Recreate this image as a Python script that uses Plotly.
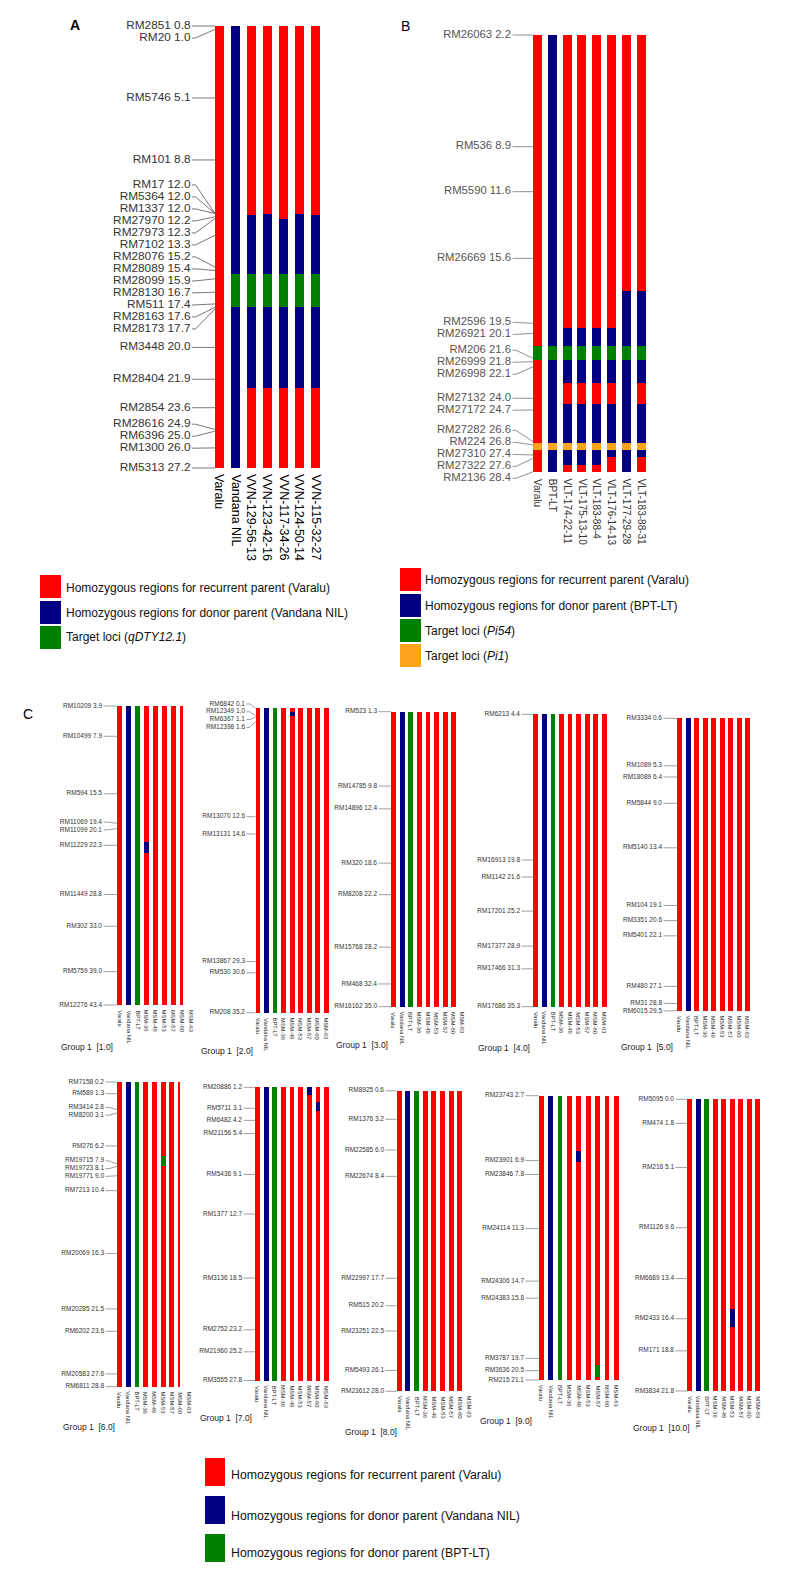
import plotly.graph_objects as go

W, H = 798, 1572
FONT = "Liberation Sans, Arial, sans-serif"
COLORS = {"R": "#FF0000", "B": "#000080", "G": "#008000", "O": "#FFA31A"}

# ---------------- Panel A data ----------------
A_markers = ["RM2851", "RM20", "RM5746", "RM101", "RM17", "RM5364", "RM1337", "RM27970",
             "RM27973", "RM7102", "RM28076", "RM28089", "RM28099", "RM28130", "RM511",
             "RM28163", "RM28173", "RM3448", "RM28404", "RM2854", "RM28616", "RM6396",
             "RM1300", "RM5313"]
A_pos = [0.8, 1.0, 5.1, 8.8, 12.0, 12.0, 12.0, 12.2, 12.3, 13.3, 15.2, 15.4, 15.9, 16.7,
         17.4, 17.6, 17.7, 20.0, 21.9, 23.6, 24.9, 25.0, 26.0, 27.2]
A_genotypes = ["Varalu", "Vandana NIL", "VVN-129-56-13", "VVN-123-42-16", "VVN-117-34-26",
               "VVN-124-50-14", "VVN-115-32-27"]
A_segments = [
    [(0.8, 27.2, "R")],
    [(0.8, 15.6, "B"), (15.6, 17.6, "G"), (17.6, 27.2, "B")],
    [(0.8, 12.1, "R"), (12.1, 15.6, "B"), (15.6, 17.6, "G"), (17.6, 22.4, "B"), (22.4, 27.2, "R")],
    [(0.8, 12.0, "R"), (12.0, 15.6, "B"), (15.6, 17.6, "G"), (17.6, 22.4, "B"), (22.4, 27.2, "R")],
    [(0.8, 12.3, "R"), (12.3, 15.6, "B"), (15.6, 17.6, "G"), (17.6, 22.4, "B"), (22.4, 27.2, "R")],
    [(0.8, 12.0, "R"), (12.0, 15.6, "B"), (15.6, 17.6, "G"), (17.6, 22.4, "B"), (22.4, 27.2, "R")],
    [(0.8, 12.1, "R"), (12.1, 15.6, "B"), (15.6, 17.6, "G"), (17.6, 22.4, "B"), (22.4, 27.2, "R")],
]
A_legend = ["Homozygous regions for recurrent parent (Varalu)",
            "Homozygous regions for donor parent (Vandana NIL)",
            "Target loci (<i>qDTY12.1</i>)"]
A_legend_codes = ["R", "B", "G"]

# ---------------- Panel B data ----------------
B_markers = ["RM26063", "RM536", "RM5590", "RM26669", "RM2596", "RM26921", "RM206", "RM26999",
             "RM26998", "RM27132", "RM27172", "RM27282", "RM224", "RM27310", "RM27322", "RM2136"]
B_pos = [2.2, 8.9, 11.6, 15.6, 19.5, 20.1, 21.6, 21.8, 22.1, 24.0, 24.7, 26.6, 26.8, 27.4, 27.6, 28.4]
B_genotypes = ["Varalu", "BPT-LT", "VLT-174-22-11", "VLT-175-13-10", "VLT-183-88-4",
               "VLT-176-14-13", "VLT-177-29-28", "VLT-183-88-31"]
B_segments = [
    [(2.2, 20.85, "R"), (20.85, 21.7, "G"), (21.7, 26.7, "R"), (26.7, 27.1, "O"), (27.1, 28.4, "R")],
    [(2.2, 20.85, "B"), (20.85, 21.7, "G"), (21.7, 26.7, "B"), (26.7, 27.1, "O"), (27.1, 28.4, "B")],
    [(2.2, 19.8, "R"), (19.8, 20.85, "B"), (20.85, 21.7, "G"), (21.7, 23.05, "B"), (23.05, 24.35, "R"),
     (24.35, 26.7, "B"), (26.7, 27.1, "O"), (27.1, 28.0, "B"), (28.0, 28.4, "R")],
    [(2.2, 19.8, "R"), (19.8, 20.85, "B"), (20.85, 21.7, "G"), (21.7, 23.05, "B"), (23.05, 24.35, "R"),
     (24.35, 26.7, "B"), (26.7, 27.1, "O"), (27.1, 28.0, "B"), (28.0, 28.4, "R")],
    [(2.2, 19.8, "R"), (19.8, 20.85, "B"), (20.85, 21.7, "G"), (21.7, 23.05, "B"), (23.05, 24.35, "R"),
     (24.35, 26.7, "B"), (26.7, 27.1, "O"), (27.1, 28.0, "B"), (28.0, 28.4, "R")],
    [(2.2, 19.8, "R"), (19.8, 20.85, "B"), (20.85, 21.7, "G"), (21.7, 23.05, "B"), (23.05, 24.35, "R"),
     (24.35, 26.7, "B"), (26.7, 27.1, "O"), (27.1, 27.5, "B"), (27.5, 28.4, "R")],
    [(2.2, 17.55, "R"), (17.55, 20.85, "B"), (20.85, 21.7, "G"), (21.7, 26.7, "B"), (26.7, 27.1, "O"),
     (27.1, 28.4, "B")],
    [(2.2, 17.55, "R"), (17.55, 20.85, "B"), (20.85, 21.7, "G"), (21.7, 23.05, "B"), (23.05, 24.35, "R"),
     (24.35, 26.7, "B"), (26.7, 27.1, "O"), (27.1, 27.5, "B"), (27.5, 28.4, "R")],
]
B_legend = ["Homozygous regions for recurrent parent (Varalu)",
            "Homozygous regions for donor parent (BPT-LT)",
            "Target loci (<i>Pi54</i>)",
            "Target loci (<i>Pi1</i>)"]
B_legend_codes = ["R", "B", "G", "O"]

# ---------------- Panel C data ----------------
C_genotypes = ["Varalu", "Vandana NIL", "BPT-LT", "MSM-36", "MSM-49", "MSM-53", "MSM-57",
               "MSM-60", "MSM-63"]
C1_markers = ["RM10209", "RM10499", "RM594", "RM11069", "RM11099", "RM11229", "RM11449", "RM302", "RM5759", "RM12276"]
C1_pos = [3.9, 7.9, 15.5, 19.4, 20.1, 22.3, 28.8, 33.0, 39.0, 43.4]
C2_markers = ["RM6842", "RM12349", "RM6367", "RM12398", "RM13070", "RM13131", "RM13867", "RM530", "RM208"]
C2_pos = [0.1, 1.0, 1.1, 1.6, 12.6, 14.6, 29.3, 30.6, 35.2]
C3_markers = ["RM523", "RM14785", "RM14896", "RM320", "RM8208", "RM15768", "RM468", "RM16162"]
C3_pos = [1.3, 9.8, 12.4, 18.6, 22.2, 28.2, 32.4, 35.0]
C4_markers = ["RM6213", "RM16913", "RM1142", "RM17201", "RM17377", "RM17466", "RM17686"]
C4_pos = [4.4, 19.8, 21.6, 25.2, 28.9, 31.3, 35.3]
C5_markers = ["RM3334", "RM1089", "RM18089", "RM5844", "RM5140", "RM104", "RM3351", "RM5401", "RM480", "RM31", "RM6015"]
C5_pos = [0.6, 5.3, 6.4, 9.0, 13.4, 19.1, 20.6, 22.1, 27.1, 28.8, 29.5]
C6_markers = ["RM7158", "RM589", "RM3414", "RM8200", "RM276", "RM19715", "RM19723", "RM19771", "RM7213",
              "RM20069", "RM20285", "RM6202", "RM20583", "RM6811"]
C6_pos = [0.2, 1.3, 2.8, 3.1, 6.2, 7.9, 8.1, 9.0, 10.4, 16.3, 21.5, 23.6, 27.6, 28.8]
C7_markers = ["RM20886", "RM5711", "RM6482", "RM21156", "RM5436", "RM1377", "RM3136", "RM2752", "RM21960", "RM3555"]
C7_pos = [1.2, 3.1, 4.2, 5.4, 9.1, 12.7, 18.5, 23.2, 25.2, 27.8]
C8_markers = ["RM8925", "RM1376", "RM22585", "RM22674", "RM22997", "RM515", "RM23251", "RM5493", "RM23612"]
C8_pos = [0.6, 3.2, 6.0, 8.4, 17.7, 20.2, 22.5, 26.1, 28.0]
C9_markers = ["RM23743", "RM23901", "RM23846", "RM24114", "RM24306", "RM24383", "RM3787", "RM3636", "RM215"]
C9_pos = [2.7, 6.9, 7.8, 11.3, 14.7, 15.8, 19.7, 20.5, 21.1]
C10_markers = ["RM5095", "RM474", "RM216", "RM1126", "RM6689", "RM2433", "RM171", "RM3834"]
C10_pos = [0.0, 1.8, 5.1, 9.6, 13.4, 16.4, 18.8, 21.8]
# background genotype per line for each linkage group (one letter per genotype)
C_base = ["RBGRRRRRR", "RBGRRRRRR", "RBGRRRRRR", "RBGRRRRRR", "RBRRRRRRR",
          "RBGRRRRRR", "RBGRRRRRR", "RBGRRRRRR", "RBGRRRRRR", "RBGRRRRRR"]
# introgressed segments: (group, genotype index, start cM, end cM, code)
C_extra = [(1, 3, 21.9, 23.3, "B"), (1, 8, 18.1, 19.3, "G"), (2, 4, 0.5, 1.0, "B"),
           (6, 5, 7.1, 8.1, "G"), (7, 6, 1.2, 1.9, "B"), (7, 7, 2.5, 3.35, "B"),
           (8, 8, 21.8, 22.9, "G"), (9, 4, 6.3, 7.0, "B"), (9, 6, 20.1, 20.9, "G"),
           (10, 5, 15.7, 17.0, "B")]
C_group_names = ["Group 1\u00a0 [1.0]", "Group 1\u00a0 [2.0]", "Group 1\u00a0 [3.0]", "Group 1\u00a0 [4.0]",
                 "Group 1\u00a0 [5.0]", "Group 1\u00a0 [6.0]", "Group 1\u00a0 [7.0]", "Group 1\u00a0 [8.0]",
                 "Group 1\u00a0 [9.0]", "Group 1\u00a0 [10.0]"]
C_legend = ["Homozygous regions for recurrent parent (Varalu)",
            "Homozygous regions for donor parent (Vandana NIL)",
            "Homozygous regions for donor parent (BPT-LT)"]
C_legend_codes = ["R", "B", "G"]

C_marker_lists = [C1_markers, C2_markers, C3_markers, C4_markers, C5_markers,
                  C6_markers, C7_markers, C8_markers, C9_markers, C10_markers]
C_pos_lists = [C1_pos, C2_pos, C3_pos, C4_pos, C5_pos, C6_pos, C7_pos, C8_pos, C9_pos, C10_pos]

# ---------------- layout geometry (pixels) ----------------
A_cfg = dict(top_px=26, bot_px=468, c0=219.5, sp=16, bw=9, lab_r=190.5, left_px=50, right_px=332,
             gap=12, fsize=11.8, fcolor="#333333", lcolor="#555555", clamp=True,
             gn_gap=4, gn_size=12.5, gn_color="#000000", pad=16)
B_cfg = dict(top_px=35, bot_px=471.7, c0=537.7, sp=14.76, bw=9, lab_r=511, left_px=425, right_px=655,
             gap=12, fsize=11.3, fcolor="#555555", lcolor="#777777", clamp=False,
             gn_gap=5, gn_size=10, gn_color="#333333", pad=16)
C_geo = [
    (706, 1005, 119.7, 8.9, 102, 86.7, 1047),
    (708.3, 1012.7, 258, 8.54, 245, 226.7, 1051),
    (711.7, 1006.7, 393.5, 8.6, 377, 361.7, 1045),
    (714.3, 1006.7, 535.8, 8.55, 520, 504.5, 1048),
    (718.3, 1010.7, 679.7, 8.5, 662, 647.3, 1047),
    (1082, 1386.7, 119.7, 8.69, 104, 89, 1427),
    (1087.3, 1380.5, 257.5, 8.63, 242, 226, 1418),
    (1090.8, 1391.3, 399.2, 8.66, 384, 370.5, 1432),
    (1095.7, 1380, 541.3, 9.375, 524, 506, 1421),
    (1099.3, 1391, 689.7, 8.5, 674, 661, 1428),
]

fig = go.Figure()
axes = {}
annotations = []
shapes = []


def spread(pos, gap, lo=None):
    """Least-squares label placement with a minimum spacing (pool-adjacent-violators)."""
    n = len(pos)
    q = [pos[i] - i * gap for i in range(n)]
    blocks = []
    for v in q:
        blocks.append([v, 1])
        while len(blocks) > 1 and blocks[-2][0] / blocks[-2][1] > blocks[-1][0] / blocks[-1][1]:
            s, c = blocks.pop()
            blocks[-1][0] += s
            blocks[-1][1] += c
    fit = []
    for s, c in blocks:
        fit += [s / c] * c
    if lo is not None:
        fit = [max(f, lo) for f in fit]
    return [fit[i] + i * gap for i in range(n)]


def add_panel(k, markers, pos, genos, segs, cfg):
    sfx = "" if k == 1 else str(k)
    xa, ya = "x" + sfx, "y" + sfx
    top, bot = pos[0], pos[-1]
    s = (cfg["bot_px"] - cfg["top_px"]) / (bot - top)
    pad = cfg["pad"]
    sp, c0 = cfg["sp"], cfg["c0"]
    xl, xr = cfg["left_px"], cfg["right_px"]
    axes["xaxis" + sfx] = dict(domain=[xl / W, xr / W], range=[(xl - c0) / sp, (xr - c0) / sp],
                               visible=False, fixedrange=True, anchor=ya)
    axes["yaxis" + sfx] = dict(domain=[1 - (cfg["bot_px"] + pad) / H, 1 - (cfg["top_px"] - pad) / H],
                               range=[bot + pad / s, top - pad / s], visible=False, fixedrange=True,
                               anchor=xa)
    barw = cfg["bw"] / sp
    for code in "RBGO":
        xs, bs, hs = [], [], []
        for gi, seg in enumerate(segs):
            for (a, b, c) in seg:
                if c == code:
                    xs.append(gi)
                    bs.append(a)
                    hs.append(b - a)
        if xs:
            fig.add_trace(go.Bar(x=xs, y=hs, base=bs, width=barw,
                                 marker=dict(color=COLORS[code], line=dict(width=0)),
                                 xaxis=xa, yaxis=ya, showlegend=False, hoverinfo="skip"))
    ly = spread(pos, cfg["gap"] / s, lo=top if cfg["clamp"] else None)
    lab_x = (cfg["lab_r"] - c0) / sp
    lx, lyy = [], []
    for i in range(len(pos)):
        lx += [(cfg["lab_r"] + 1.5 - c0) / sp, (cfg["lab_r"] + 5 - c0) / sp, -barw / 2, None]
        lyy += [ly[i], ly[i], pos[i], None]
    fig.add_trace(go.Scatter(x=lx, y=lyy, mode="lines", line=dict(color=cfg["lcolor"], width=0.8),
                             xaxis=xa, yaxis=ya, showlegend=False, hoverinfo="skip"))
    fig.add_trace(go.Scatter(x=[lab_x] * len(pos), y=ly,
                             text=[f"{m} {p:.1f}" for m, p in zip(markers, pos)],
                             mode="text", textposition="middle left", cliponaxis=False,
                             textfont=dict(size=cfg["fsize"], color=cfg["fcolor"], family=FONT),
                             xaxis=xa, yaxis=ya, showlegend=False, hoverinfo="skip"))
    for gi, g in enumerate(genos):
        annotations.append(dict(x=gi, y=bot + cfg["gn_gap"] / s, xref=xa, yref=ya, text=g,
                                textangle=90, showarrow=False, xanchor="center", yanchor="top",
                                font=dict(size=cfg["gn_size"], color=cfg["gn_color"], family=FONT)))


def add_legend(codes, texts, box_x, box_tops, box_w, box_h, text_x, text_ys, fsize):
    for code, txt, bt, ty in zip(codes, texts, box_tops, text_ys):
        shapes.append(dict(type="rect", xref="paper", yref="paper", x0=box_x / W, x1=(box_x + box_w) / W,
                           y0=1 - (bt + box_h) / H, y1=1 - bt / H, fillcolor=COLORS[code],
                           line=dict(width=0)))
        annotations.append(dict(x=text_x / W, y=1 - ty / H, xref="paper", yref="paper", text=txt,
                                showarrow=False, xanchor="left", yanchor="middle",
                                font=dict(size=fsize, color="#111111", family=FONT)))


add_panel(1, A_markers, A_pos, A_genotypes, A_segments, A_cfg)
add_panel(2, B_markers, B_pos, B_genotypes, B_segments, B_cfg)

for gi in range(10):
    top_px, bot_px, c0, sp, lab_r, gx, gy = C_geo[gi]
    segs = [[(C_pos_lists[gi][0], C_pos_lists[gi][-1], C_base[gi][j])] for j in range(len(C_genotypes))]
    for (g, j, a, b, c) in C_extra:
        if g == gi + 1:
            segs[j].append((a, b, c))
    cfg = dict(top_px=top_px, bot_px=bot_px, c0=c0, sp=sp, bw=4.8, lab_r=lab_r,
               left_px=lab_r - 62, right_px=c0 + 8 * sp + 6, gap=7.8, fsize=6.5,
               fcolor="#333333", lcolor="#888888", clamp=False, gn_gap=3, gn_size=5.8,
               gn_color="#222222", pad=14)
    add_panel(gi + 3, C_marker_lists[gi], C_pos_lists[gi], C_genotypes, segs, cfg)
    annotations.append(dict(x=gx / W, y=1 - gy / H, xref="paper", yref="paper", text=C_group_names[gi],
                            showarrow=False, xanchor="center", yanchor="middle",
                            font=dict(size=8.5, color="#222222", family=FONT)))

add_legend(A_legend_codes, A_legend, 40, [575, 601, 626], 21, 23, 64, [588, 613, 637], 12)
add_legend(B_legend_codes, B_legend, 400, [568, 594, 619, 644], 21, 23, 423, [580, 606, 631, 656], 12)
add_legend(C_legend_codes, C_legend, 205, [1458, 1496, 1534], 20, 28, 229, [1475, 1516, 1553], 12.3)

for letter, x, y, bold in [("A", 75, 25, True), ("B", 405, 26, False), ("C", 28, 714, False)]:
    annotations.append(dict(x=x / W, y=1 - y / H, xref="paper", yref="paper",
                            text=f"<b>{letter}</b>" if bold else letter, showarrow=False,
                            xanchor="center", yanchor="middle",
                            font=dict(size=14, color="#000000", family=FONT)))

fig.update_layout(width=W, height=H, margin=dict(l=0, r=0, t=0, b=0), autosize=False,
                  paper_bgcolor="white", plot_bgcolor="white", barmode="overlay", bargap=0,
                  showlegend=False, annotations=annotations, shapes=shapes,
                  font=dict(family=FONT), **axes)

fig.write_html("out.html", config={"displayModeBar": False, "staticPlot": True},
               post_script="document.body.style.margin='0';")
